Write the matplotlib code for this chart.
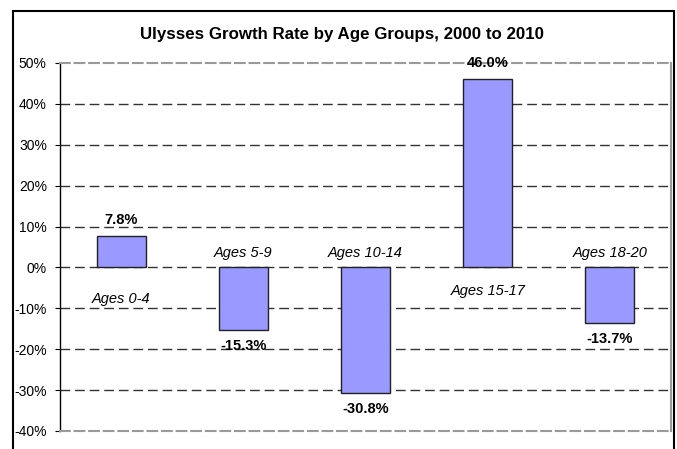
import matplotlib
matplotlib.use("Agg")
import matplotlib.pyplot as plt
from matplotlib.patches import Rectangle
from matplotlib.ticker import FixedLocator, FuncFormatter

plt.rcParams['font.family'] = ['Liberation Sans', 'DejaVu Sans']
plt.rcParams['lines.scale_dashes'] = False

# ---- data ----
categories = ["Ages 0-4", "Ages 5-9", "Ages 10-14", "Ages 15-17", "Ages 18-20"]
growth = [7.8, -15.3, -30.8, 46.0, -13.7]
y_ticks = [-40, -30, -20, -10, 0, 10, 20, 30, 40, 50]
title = "Ulysses Growth Rate by Age Groups, 2000 to 2010"

# ---- style ----
cat_label_offsets_px = [-32, 14, 14, -24, 14]   # vertical offset of category label from zero line
value_offset_px = 16

DPI = 100
W, H = 677, 449
fig = plt.figure(figsize=(W / DPI, H / DPI), dpi=DPI)
px = 72.0 / DPI  # points per pixel

ax_left, ax_right, ax_top, ax_bot = 60, 671, 63, 431
ax = fig.add_axes([ax_left / W, 1 - ax_bot / H, (ax_right - ax_left) / W, (ax_bot - ax_top) / H])

x = list(range(len(categories)))
ax.bar(x, growth, width=0.4, color='#9999FF', edgecolor='#222222', linewidth=1.0, zorder=3)

ax.set_xlim(-0.5, len(categories) - 0.5)
ax.set_ylim(y_ticks[0], y_ticks[-1])
ax.yaxis.set_major_locator(FixedLocator(y_ticks))
ax.yaxis.set_major_formatter(FuncFormatter(lambda v, p: f"{v:.0f}%"))
ax.set_xticks([])
ax.tick_params(axis='y', direction='out', length=3.5, width=0.8, labelsize=10, pad=6, colors='black')

for v in y_ticks:
    if v in (y_ticks[0], y_ticks[-1]):
        continue
    ax.axhline(v, color='#333333', linewidth=1.0, linestyle=(0, (7, 3.5)), zorder=1)

for s in ['top', 'bottom', 'right']:
    ax.spines[s].set_color('#9a9a9a')
    ax.spines[s].set_linewidth(1.5)
ax.spines['top'].set_linestyle((0, (7, 3.5)))
ax.spines['bottom'].set_linestyle((0, (7, 3.5)))
ax.spines['left'].set_color('black')
ax.spines['left'].set_linewidth(1.0)

for i, (cat, val) in enumerate(zip(categories, growth)):
    sign = 1 if val >= 0 else -1
    ax.annotate(f"{val:.1f}%", xy=(i, val), xytext=(0, sign * value_offset_px * px),
                textcoords='offset points', ha='center', va='center',
                fontsize=10.5, fontweight='bold', annotation_clip=False, zorder=5)
    ax.annotate(cat, xy=(i, 0), xytext=(0, cat_label_offsets_px[i] * px),
                textcoords='offset points', ha='center', va='center',
                fontsize=10.5, fontstyle='italic', annotation_clip=False, zorder=5)

fig.text(342.5 / W, 1 - 34.5 / H, title, ha='center', va='center', fontsize=12.2, fontweight='bold')

# outer chart border (open at the bottom)
fig.patches.append(Rectangle((12.5 / W, -0.05), (674 - 12.5) / W, 1.05 - 11 / H,
                             transform=fig.transFigure, fill=False, edgecolor='black',
                             linewidth=1.5))

fig.savefig("out.png", dpi=DPI)
